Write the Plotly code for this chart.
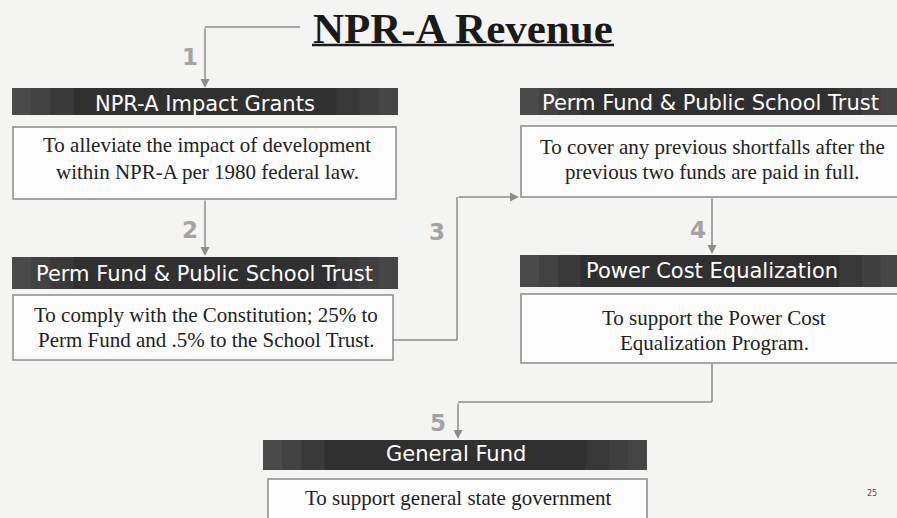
import plotly.graph_objects as go

# ---- content ----
title_text = "NPR-A Revenue"
headers = [
    "NPR-A Impact Grants",
    "Perm Fund & Public School Trust",
    "Perm Fund & Public School Trust",
    "Power Cost Equalization",
    "General Fund",
]
descriptions = [
    ["To alleviate the impact of development", "within NPR-A per 1980 federal law."],
    ["To comply with the Constitution; 25% to", "Perm Fund and .5% to the School Trust."],
    ["To cover any previous shortfalls after the", "previous two funds are paid in full."],
    ["To support the Power Cost", "Equalization Program."],
    ["To support general state government", ""],
]
steps = ["1", "2", "3", "4", "5"]
page_number = "25"

# ---- layout geometry (pixel space) ----
W, H = 897, 518
hdr_x0 = [12, 12, 520, 520, 263]
hdr_x1 = [398, 398, 900, 900, 647]
hdr_y0 = [88, 257, 88, 255, 440]
hdr_y1 = [115, 289, 115, 287, 470]
hdr_text_y = [104, 274, 103, 271, 454]
desc_x0 = [13, 13, 521, 521, 268]
desc_x1 = [396, 393, 905, 905, 647]
desc_y0 = [127, 295, 126, 294, 479]
desc_y1 = [199, 360, 197, 363, 540]
text_cx = [205, 204, 710, 712, 456]
desc_line_y = [[145, 172], [315, 340], [147, 172], [318, 343], [498, 0]]

# connectors: polyline points, last segment gets arrow
connectors = [
    [(300, 27), (205, 27), (205, 88)],
    [(205, 199), (205, 256)],
    [(393, 340), (457, 340), (457, 197), (519, 197)],
    [(712, 197), (712, 254)],
    [(712, 363), (712, 402), (458, 402), (458, 439)],
]
step_pos = [(190, 57), (190, 230), (437, 232), (698, 230), (438, 423)]

LINE = "#8c8c8c"
HDR = "#303030"

fig = go.Figure()
shapes = []
annotations = []

# header bars and description boxes
for i in range(len(headers)):
    shapes.append(dict(type="rect", xref="x", yref="y",
                       x0=hdr_x0[i], x1=hdr_x1[i], y0=hdr_y0[i], y1=hdr_y1[i],
                       fillcolor=HDR, line=dict(width=0), layer="below"))
    wbar = hdr_x1[i] - hdr_x0[i]
    # softly lighter, mottled ends of the bar (stepped fade)
    for frac in (0.05, 0.10, 0.16):
        shapes.append(dict(type="rect", xref="x", yref="y",
                           x0=hdr_x0[i], x1=hdr_x0[i] + frac * wbar, y0=hdr_y0[i], y1=hdr_y1[i],
                           fillcolor="#808080", opacity=0.12, line=dict(width=0), layer="below"))
        shapes.append(dict(type="rect", xref="x", yref="y",
                           x0=hdr_x1[i] - frac * wbar, x1=hdr_x1[i], y0=hdr_y0[i], y1=hdr_y1[i],
                           fillcolor="#808080", opacity=0.10, line=dict(width=0), layer="below"))
    shapes.append(dict(type="rect", xref="x", yref="y",
                       x0=desc_x0[i], x1=desc_x1[i], y0=desc_y0[i], y1=desc_y1[i],
                       fillcolor="#fcfcfc", line=dict(color="#8a8a8a", width=1.5), layer="below"))
    annotations.append(dict(x=text_cx[i], y=hdr_text_y[i], xref="x", yref="y",
                            text=headers[i], showarrow=False,
                            font=dict(family="DejaVu Sans", size=21, color="#ffffff"),
                            xanchor="center", yanchor="middle"))
    for line, ly in zip(descriptions[i], desc_line_y[i]):
        if line:
            annotations.append(dict(x=text_cx[i] + 2, y=ly, xref="x", yref="y",
                                    text=line, showarrow=False,
                                    font=dict(family="Liberation Serif", size=21, color="#222222"),
                                    xanchor="center", yanchor="middle"))

# connectors
for pts in connectors:
    for (xa, ya), (xb, yb) in zip(pts[:-2], pts[1:-1]):
        shapes.append(dict(type="line", xref="x", yref="y", x0=xa, y0=ya, x1=xb, y1=yb,
                           line=dict(color=LINE, width=1.5)))
    (xa, ya), (xb, yb) = pts[-2], pts[-1]
    annotations.append(dict(x=xb, y=yb, ax=xa, ay=ya, xref="x", yref="y",
                            axref="x", ayref="y", text="", showarrow=True,
                            arrowhead=2, arrowsize=1.2, arrowwidth=1.5, arrowcolor=LINE))

# step numbers
for s, (sx, sy) in zip(steps, step_pos):
    annotations.append(dict(x=sx, y=sy, xref="x", yref="y", text="<b>%s</b>" % s,
                            showarrow=False,
                            font=dict(family="DejaVu Sans", size=23, color="#a3a3a3"),
                            xanchor="center", yanchor="middle"))

# title
annotations.append(dict(x=463, y=28, xref="x", yref="y", text="<b>%s</b>" % title_text,
                        showarrow=False,
                        font=dict(family="Liberation Serif", size=43, color="#1a1a1a"),
                        xanchor="center", yanchor="middle"))
shapes.append(dict(type="line", xref="x", yref="y", x0=312, x1=614, y0=45, y1=45,
                   line=dict(color="#1a1a1a", width=2.5)))

# page number
annotations.append(dict(x=872, y=493, xref="x", yref="y", text=page_number, showarrow=False,
                        font=dict(family="DejaVu Sans", size=8, color="#555555")))

fig.update_layout(
    width=W, height=H,
    margin=dict(l=0, r=0, t=0, b=0),
    paper_bgcolor="#f4f4f2", plot_bgcolor="#f4f4f2",
    xaxis=dict(range=[0, W], visible=False, fixedrange=True),
    yaxis=dict(range=[H, 0], visible=False, fixedrange=True),
    shapes=shapes, annotations=annotations, showlegend=False,
)
fig.write_html("out.html",
               config={"displayModeBar": False},
               post_script="document.body.style.margin='0';document.body.style.overflow='hidden';")
